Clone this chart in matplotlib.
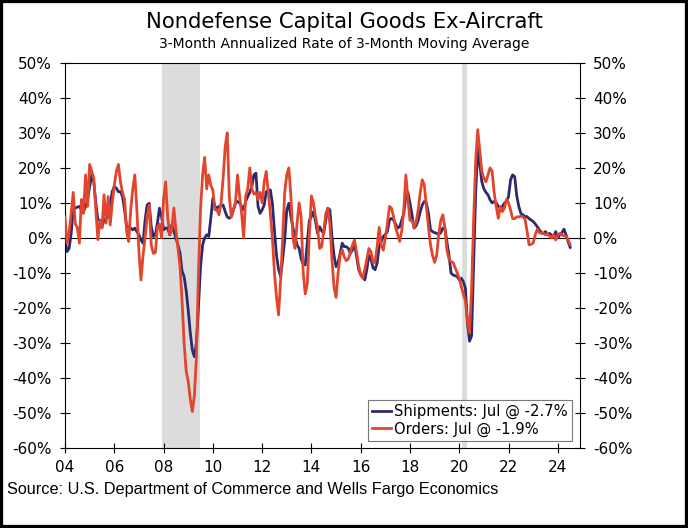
import matplotlib
matplotlib.use("Agg")
import matplotlib.pyplot as plt
from matplotlib.patches import Rectangle
import numpy as np

# Monthly values, Jan 2004 - Jul 2024 (3-month annualized rate of 3-month moving average, %)
orders = [
    6, -1.5, 1.5, 7, 13, 4, 3, -1.5, 11, 7, 18, 9,                      # 2004
    21, 19, 17, 8, -0.5, 5, 2.8, 12.3, 4.2, 11.8, 3.7, 10,              # 2005
    15, 19, 21, 16, 13, 11, 1.8, -1, 8, 14, 18, 8,                      # 2006
    -4, -12, -5, 0, 6, 9.4, -2, -4.4, -4.2, 3, 4, 0,                    # 2007
    11, 16, 6, 1, 2.3, 8.5, 2.3, -3, -8, -18, -30, -38,                 # 2008
    -41, -46, -49.6, -45, -34, -10, 8, 18, 23, 14, 18, 15,              # 2009
    13.7, 8, 8, 6.6, 10, 17, 26, 30, 12, 6, 8, 10,                      # 2010
    18, 12, 7, 0, 12, 14, 20, 14, 12.5, 13, 11, 13,                     # 2011
    10, 16, 19, 13, 7, 0, -10, -17, -22, -12, 0, 13,                    # 2012
    18, 20, 12, 0, -3, 4, 10, 6, -10, -16, -13, 1,                      # 2013
    12, 10, 6, 3, -3, -2.5, 2, 7, 8.5, 4, -6, -14,                      # 2014
    -17, -10, -5, -3.4, -5.5, -6.5, -6, -4, -2, -0.6, -4, -8,           # 2015
    -10.5, -11.5, -9, -6, -3, -4, -7, -7, -2.5, 3, -2, -3.5,            # 2016
    0, 4, 9, 8.5, 6, 3, 1, -1, 2, 8, 18, 11,                            # 2017
    5, 5, 3, 4.5, 8, 13, 16.6, 15, 9, 3, -2, -5,                        # 2018
    -7, -5, 1, 5, 6.6, 3, -3.5, -6, -6.8, -7, -8.5, -10,                # 2019
    -11.5, -14, -16, -18, -24, -27, -15, 5, 22, 30.9, 25, 19,           # 2020
    17, 16, 18, 20, 19, 13, 9, 5.6, 9, 7.5, 8.5, 11,                    # 2021
    10, 8, 5.5, 5.5, 6, 6, 6.2, 6, 5.5, 2, -2, -1.8,                    # 2022
    -1.5, 0.9, 2.5, 1.5, 1.3, 1.3, 0.9, 1.3, 0.5, 0, 0.9, -0.6,         # 2023
    0.9, 1.3, 0.9, 0.6, 0.4, -0.6, -1.9,                                # 2024
]

shipments = [
    -0.6, -3.9, -3, 1.3, 8.5, 8.5, 8.8, 9, 8, 7.5, 9, 10.9,             # 2004
    14.7, 18, 16, 10, 5.1, 5.1, 3.2, 5.1, 5.6, 6, 9.4, 13.2,            # 2005
    14.7, 14.2, 13.2, 13.2, 11.8, 8, 3.2, 3.2, 2.8, 2.3, 2.8, 1.8,      # 2006
    0.9, -0.6, -1.5, 5.1, 9.4, 9.9, 3.2, 0.4, 0.9, 4.2, 8.5, 6.1,       # 2007
    2.3, 2.8, 2.8, 0.9, 3.7, 2, 0, -2, -4.4, -9.5, -11, -15,            # 2008
    -20.6, -27, -32, -33.9, -30, -19.6, -8.2, -2, 0, 0.9, 0.4, 5.6,     # 2009
    11.3, 9, 8.5, 9, 9.2, 9.4, 7.5, 6, 5.6, 6.1, 8, 9.9,                # 2010
    10.4, 10, 9, 8, 10.5, 11.8, 13, 14.7, 18, 18.5, 9, 7,               # 2011
    8, 9.4, 13.2, 13.5, 13.7, 9.9, 2, -5, -9, -11, -6, -0.6,            # 2012
    8, 9.9, 6.1, 3, 0.4, -2, -3, -6, -7.5, -7.7, -1.5, 5,               # 2013
    6.1, 7.5, 4.7, 1.3, 3.2, 2, 1.3, 5.1, 8.5, 8, 0.4, -5,              # 2014
    -8.2, -7, -4.4, -1.5, -2.5, -2.5, -3, -4.4, -3.4, -2, -5.3, -9,     # 2015
    -10.5, -11, -12, -9, -5, -6, -8.5, -9.1, -7.2, -2.5, -1, 0.4,       # 2016
    1, 1.8, 5.1, 5.6, 5.1, 4, 2.8, 3.2, 5.1, 7, 12, 13,                 # 2017
    10, 6.6, 2.8, 3.5, 5, 7.5, 9.4, 10.4, 10, 7, 2.3, 1.8,              # 2018
    1.5, 1.3, 1, 1.5, 2.8, 2.8, -1, -5, -10, -10.6, -10.8, -11,         # 2019
    -12, -11.5, -12.5, -14.4, -24.4, -29.5, -28, -8, 12.8, 25.6, 21, 16,  # 2020
    14, 13, 12.3, 10.9, 10, 10.4, 10, 9, 8.5, 9, 9.9, 10.5,             # 2021
    11.8, 16.6, 18, 17.5, 12, 9, 7, 6.6, 6.1, 6.1, 5.5, 5.1,            # 2022
    4.7, 4, 3.2, 2.3, 1.5, 1.3, 1.8, 0.9, 1.3, 0.8, 0.4, 1.8,           # 2023
    0, 0.9, 1.5, 2.5, 0.9, -1, -2.7,                                    # 2024
]

recessions = [(2007.92, 2009.46), (2020.12, 2020.30)]
year_ticks = list(range(2004, 2025, 2))
year_labels = [f"{y % 100:02d}" for y in year_ticks]
pct_ticks = list(range(-60, 51, 10))

dates = 2004 + np.arange(len(orders)) / 12.0

fig = plt.figure(figsize=(6.88, 5.28), dpi=100)
ax = fig.add_axes([0.0945, 0.1515, 0.7485, 0.7295])

for start, end in recessions:
    ax.axvspan(start, end, color="#dcdcdc", lw=0, zorder=0)

ax.axhline(0, color="black", lw=0.8, zorder=1)
ax.plot(dates, orders, color="#E2452B", lw=2.0, zorder=3,
        label="Orders: Jul @ -1.9%")
ax.plot(dates, shipments, color="#2B2A6E", lw=2.0, zorder=2,
        label="Shipments: Jul @ -2.7%")

ax.set_xlim(2004, 2024.9)
ax.set_ylim(-60, 50)
ax.set_xticks(year_ticks)
ax.set_xticklabels(year_labels)
ax.set_yticks(pct_ticks)
ax.set_yticklabels([f"{v}%" for v in pct_ticks])
ax.tick_params(axis="both", direction="inout", length=7, width=0.8,
               labelsize=11, right=True, labelright=True, pad=6)
ax.tick_params(axis="x", pad=5)
for s in ax.spines.values():
    s.set_linewidth(0.8)

handles, labels = ax.get_legend_handles_labels()
leg = ax.legend(handles[::-1], labels[::-1], loc="lower right",
                bbox_to_anchor=(0.985, 0.018), fontsize=10.6, frameon=True,
                fancybox=False, edgecolor="#555555", handlelength=1.3,
                handletextpad=0.2, borderpad=0.3, labelspacing=0.15,
                borderaxespad=0)
leg.get_frame().set_linewidth(0.8)

fig.text(0.5, 0.958, "Nondefense Capital Goods Ex-Aircraft", ha="center",
         va="center", fontsize=15.2)
fig.text(0.5, 0.917, "3-Month Annualized Rate of 3-Month Moving Average",
         ha="center", va="center", fontsize=10)
fig.text(0.01, 0.072, "Source: U.S. Department of Commerce and Wells Fargo Economics",
         ha="left", va="center", fontsize=11.7, family="Liberation Sans")

fig.patches.append(Rectangle((0, 0), 1, 1, transform=fig.transFigure,
                             fill=False, edgecolor="black", lw=4.5))

fig.savefig("out.png", dpi=100)
